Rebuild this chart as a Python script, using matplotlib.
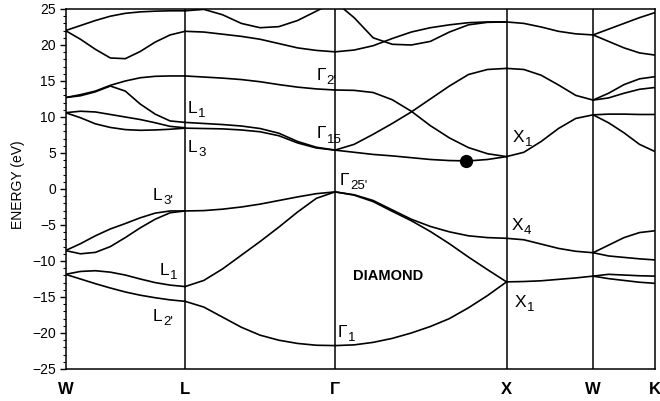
import numpy as np
import matplotlib.pyplot as plt
from matplotlib.ticker import MultipleLocator

plt.rcParams['font.family'] = ['Liberation Sans', 'DejaVu Sans']
plt.rcParams['mathtext.fontset'] = 'custom'
plt.rcParams['mathtext.rm'] = 'Liberation Sans'
plt.rcParams['mathtext.it'] = 'Liberation Sans'
plt.rcParams['mathtext.default'] = 'regular'

# high-symmetry points along the path
sym_labels = ['W', 'L', 'Γ', 'X', 'W', 'K']
sym_k = [0.0, 0.695, 1.567, 2.564, 3.067, 3.427]

# band energies (eV), evenly sampled along each segment
w_l = [
    [-11.85, -12.5, -13.15, -13.75, -14.3, -14.75, -15.1, -15.4, -15.6],
    [-11.85, -11.45, -11.35, -11.55, -11.95, -12.5, -13.0, -13.35, -13.55],
    [-8.55, -9.0, -8.8, -8.0, -6.75, -5.4, -4.2, -3.3, -3.05],
    [-8.55, -7.6, -6.5, -5.55, -4.8, -4.0, -3.35, -3.05, -3.05],
    [10.6, 9.9, 9.05, 8.55, 8.25, 8.15, 8.2, 8.3, 8.45],
    [10.6, 10.8, 10.7, 10.35, 10.0, 9.65, 9.2, 8.7, 8.5],
    [12.7, 13.1, 13.6, 14.4, 15.0, 15.45, 15.65, 15.7, 15.7],
    [12.7, 12.95, 13.5, 14.3, 13.6, 11.8, 10.4, 9.45, 9.25],
    [22.0, 20.8, 19.4, 18.2, 18.1, 19.1, 20.4, 21.4, 21.9],
    [22.0, 22.7, 23.4, 24.0, 24.4, 24.6, 24.7, 24.75, 24.75],
]
l_g = [
    [-15.6, -16.4, -17.8, -19.2, -20.3, -21.0, -21.45, -21.7, -21.75],
    [-13.55, -12.7, -11.1, -9.2, -7.3, -5.3, -3.2, -1.3, -0.4],
    [-3.05, -3.0, -2.8, -2.5, -2.1, -1.6, -1.1, -0.65, -0.4],
    [8.45, 8.4, 8.35, 8.2, 7.95, 7.4, 6.4, 5.7, 5.4],
    [9.25, 9.1, 8.95, 8.75, 8.4, 7.75, 6.6, 5.8, 5.4],
    [15.7, 15.55, 15.4, 15.2, 14.9, 14.5, 14.15, 13.9, 13.75],
    [21.9, 21.8, 21.5, 21.2, 20.8, 20.2, 19.6, 19.25, 19.05],
    [24.75, 24.95, 24.2, 23.0, 22.4, 22.55, 23.4, 24.7, 26.0],
]
g_x = [
    [-21.75, -21.65, -21.3, -20.75, -20.0, -19.1, -18.0, -16.5, -14.8, -12.9],
    [-0.4, -0.85, -1.75, -3.1, -4.4, -5.9, -7.6, -9.45, -11.2, -12.9],
    [-0.4, -0.8, -1.6, -2.9, -4.2, -5.2, -5.95, -6.5, -6.75, -6.85],
    [5.4, 5.1, 4.8, 4.6, 4.35, 4.1, 3.95, 3.9, 4.1, 4.5],
    [5.4, 6.2, 7.6, 9.1, 10.7, 12.5, 14.3, 15.9, 16.6, 16.75],
    [13.75, 13.7, 13.4, 12.4, 10.8, 8.8, 7.1, 5.75, 4.9, 4.5],
    [19.05, 19.3, 19.9, 20.9, 21.8, 22.4, 22.8, 23.1, 23.2, 23.2],
    [26.0, 23.8, 21.0, 20.1, 20.0, 20.5, 21.8, 22.8, 23.15, 23.2],
]
x_w = [
    [-12.9, -12.85, -12.75, -12.55, -12.35, -12.1],
    [-6.85, -7.05, -7.65, -8.25, -8.65, -8.85],
    [4.5, 5.1, 6.6, 8.4, 9.8, 10.3],
    [16.75, 16.6, 15.8, 14.45, 13.0, 12.35],
    [23.2, 23.0, 22.5, 21.9, 21.55, 21.4],
]
w_k = [
    [-12.1, -12.45, -12.7, -12.95, -13.1],
    [-12.1, -11.85, -11.95, -12.05, -12.1],
    [-8.85, -9.3, -9.5, -9.7, -9.85],
    [-8.85, -7.8, -6.75, -6.05, -5.8],
    [10.3, 9.2, 7.8, 6.2, 5.2],
    [10.3, 10.4, 10.4, 10.35, 10.35],
    [12.35, 12.65, 13.3, 13.85, 14.1],
    [12.35, 13.3, 14.5, 15.3, 15.6],
    [21.4, 20.5, 19.6, 18.9, 18.6],
    [21.4, 22.2, 23.0, 23.8, 24.5],
]
segments = [w_l, l_g, g_x, x_w, w_k]

# conduction band minimum along Gamma-X
cbm_k = 2.328
cbm_e = 3.9

# state labels: letter, subscript, k, baseline energy
state_labels = [
    ('L', '1', 0.712, 10.55),
    ('L', '3', 0.712, 5.14),
    ('L', "3'", 0.509, -1.53),
    ('L', '1', 0.549, -11.94),
    ('L', "2'", 0.509, -18.33),
    ('Γ', "2'", 1.460, 15.14),
    ('Γ', '15', 1.460, 7.04),
    ('Γ', "25'", 1.596, 0.56),
    ('Γ', '1', 1.584, -20.5),
    ('X', '1', 2.601, 6.57),
    ('X', '4', 2.596, -5.69),
    ('X', '1', 2.613, -16.35),
]

fig = plt.figure(figsize=(6.6, 4.01), dpi=100)
ax = fig.add_axes([65.5 / 660, 32 / 401, 589.5 / 660, 360 / 401])

for i, bands in enumerate(segments):
    for band in bands:
        k = np.linspace(sym_k[i], sym_k[i + 1], len(band))
        ax.plot(k, band, color='black', lw=1.2, solid_joinstyle='round')

for k in sym_k[1:-1]:
    ax.axvline(k, color='black', lw=1.1)

ax.plot([cbm_k], [cbm_e], 'o', color='black', ms=8.5)

# letter, then subscript placed right after it (width from the renderer)
fig.canvas.draw()
renderer = fig.canvas.get_renderer()
for letter, sub, k, e in state_labels:
    t = ax.text(k, e, letter, fontsize=12.5, ha='left', va='baseline')
    w_pt = t.get_window_extent(renderer).width * 72 / fig.dpi
    ax.annotate(sub, xy=(k, e), xytext=(w_pt + 0.3, -3.2), textcoords='offset points',
                fontsize=9.5, ha='left', va='baseline')
ax.text(1.671, -12.64, 'DIAMOND', fontsize=10.5, fontweight='bold', ha='left', va='baseline')

ax.set_xlim(sym_k[0], sym_k[-1])
ax.set_ylim(-25, 25)
ax.set_xticks(sym_k)
ax.set_xticklabels(sym_labels, fontsize=12, fontweight='bold')
ax.tick_params(axis='x', length=0, pad=9)
ax.set_yticks(range(-25, 26, 5))
ax.yaxis.set_minor_locator(MultipleLocator(1))
ax.tick_params(axis='y', which='major', direction='out', length=4, width=1, labelsize=10, pad=3)
ax.tick_params(axis='y', which='minor', direction='out', length=2.5, width=0.8)
for s in ax.spines.values():
    s.set_linewidth(1.1)

fig.text(18.5 / 660, 1 - 185 / 401, 'ENERGY (eV)', rotation=90, ha='center', va='center', fontsize=10)

fig.savefig('out.png', dpi=100)
